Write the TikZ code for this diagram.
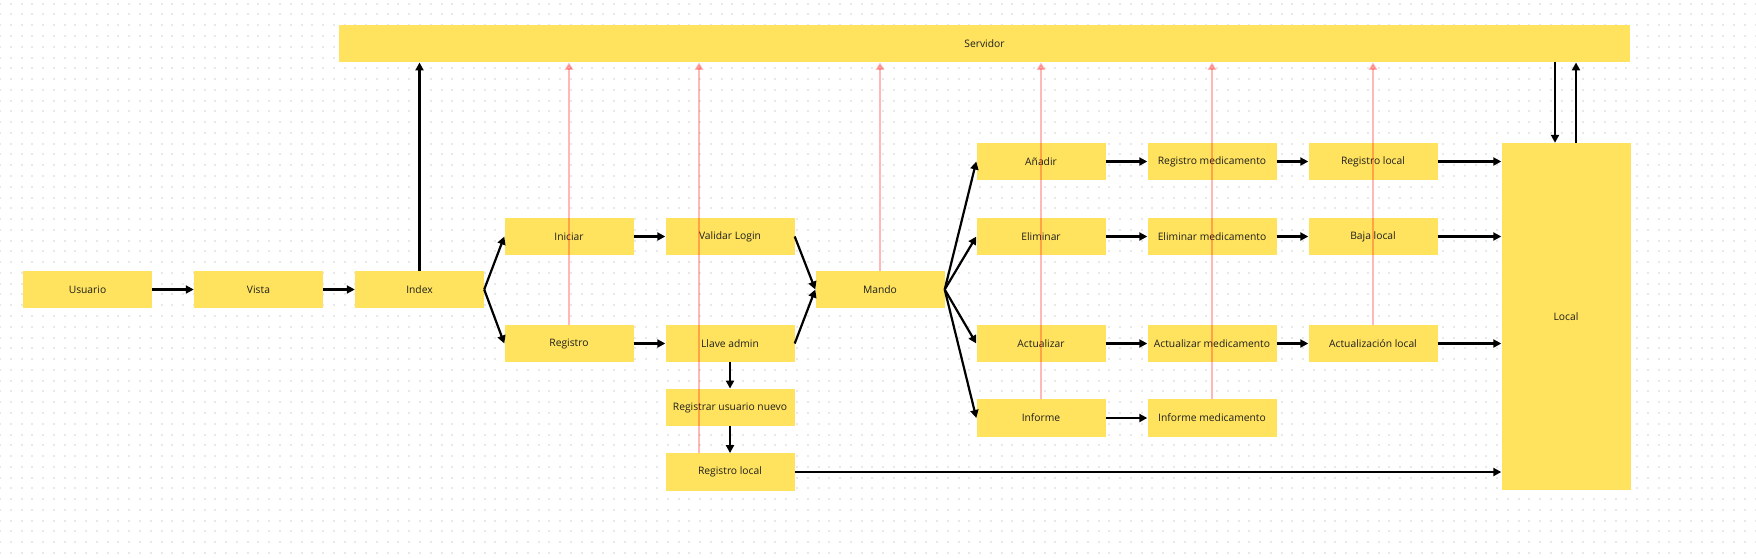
\documentclass[tikz,border=0pt]{standalone}
\usepackage{fontspec}
\setmainfont{Open Sans}
\usetikzlibrary{arrows.meta,calc}
\definecolor{stick}{RGB}{255,227,94}
\definecolor{griddot}{RGB}{232,232,232}
\definecolor{ink}{RGB}{30,30,30}
\begin{document}
\begin{tikzpicture}[x=1pt,y=-1pt,
  box/.style={fill=stick,minimum width=129pt,minimum height=37.5pt,inner sep=0pt,text=ink,font=\fontsize{10.3}{12}\selectfont},
  arr/.style={line width=2.2pt,-{Triangle[length=8pt,width=8pt]}},
  sync/.style={line width=2pt,red,opacity=0.28,-{Triangle[length=7.5pt,width=8.5pt]}}]
\fill[white] (0,0) rectangle (1756,557);
\useasboundingbox (0,0) rectangle (1756,557);
% dotted grid
\foreach \r in {0,...,51}
  \draw[griddot,line width=2pt,dash pattern=on 2pt off 8.77pt] (-1,{3.7+10.77*\r}) -- (1757,{3.7+10.77*\r});
% nodes
\node[box,minimum width=1291pt] (srv) at (984.5,43.5) {Servidor};
\node[box,minimum height=347pt] (loc) at (1566,316.5) {Local};
\node[box] (usu) at (87.5,289.5) {Usuario};
\node[box] (vis) at (258.5,289.5) {Vista};
\node[box] (idx) at (419.5,289.5) {Index};
\node[box] (ini) at (569,236.5) {Iniciar};
\node[box] (reg) at (569,343.5) {Registro};
\node[box] (val) at (730,236.5) {Validar Login};
\node[box] (lla) at (730,343.5) {Llave admin};
\node[box] (run) at (730,407.5) {Registrar usuario nuevo};
\node[box] (rl1) at (730,472) {Registro local};
\node[box] (man) at (880,289.5) {Mando};
\node[box] (ana) at (1041,161.5) {Añadir};
\node[box] (eli) at (1041,236.5) {Eliminar};
\node[box] (act) at (1041,343.5) {Actualizar};
\node[box] (inf) at (1041,418) {Informe};
\node[box] (rme) at (1212,161.5) {Registro medicamento};
\node[box] (eme) at (1212,236.5) {Eliminar medicamento};
\node[box] (ame) at (1212,343.5) {Actualizar medicamento};
\node[box] (ime) at (1212,418) {Informe medicamento};
\node[box] (rl2) at (1373,161.5) {Registro local};
\node[box] (baj) at (1373,236.5) {Baja local};
\node[box] (acl) at (1373,343.5) {Actualización local};
% black connectors
\draw[arr] (usu.east) -- (vis.west);
\draw[arr] (vis.east) -- (idx.west);
\draw[arr] (idx.north) -- (idx.north |- srv.south);
\draw[arr] (idx.east) -- (ini.west);
\draw[arr] (idx.east) -- (reg.west);
\draw[arr] (ini.east) -- (val.west);
\draw[arr] (reg.east) -- (lla.west);
\draw[arr] (val.east) -- (man.west);
\draw[arr] (lla.east) -- (man.west);
\draw[arr] (lla.south) -- (run.north);
\draw[arr] (run.south) -- (rl1.north);
\draw[arr] (rl1.east) -- (rl1.east -| loc.west);
\draw[arr] (man.east) -- (ana.west);
\draw[arr] (man.east) -- (eli.west);
\draw[arr] (man.east) -- (act.west);
\draw[arr] (man.east) -- (inf.west);
\draw[arr] (ana.east) -- (rme.west);
\draw[arr] (rme.east) -- (rl2.west);
\draw[arr] (rl2.east) -- (rl2.east -| loc.west);
\draw[arr] (eli.east) -- (eme.west);
\draw[arr] (eme.east) -- (baj.west);
\draw[arr] (baj.east) -- (baj.east -| loc.west);
\draw[arr] (act.east) -- (ame.west);
\draw[arr] (ame.east) -- (acl.west);
\draw[arr] (acl.east) -- (acl.east -| loc.west);
\draw[arr] (inf.east) -- (ime.west);
\coordinate (ldown) at ($(loc.north)+(-11,0)$);
\coordinate (lup) at ($(loc.north)+(10,0)$);
\draw[arr] (ldown |- srv.south) -- (ldown);
\draw[arr] (lup) -- (lup |- srv.south);
% pink sync connectors
\coordinate (rl1s) at ($(rl1.north)+(-31,0)$);
\draw[sync] (reg.north) -- (reg.north |- srv.south);
\draw[sync] (rl1s) -- (rl1s |- srv.south);
\draw[sync] (man.north) -- (man.north |- srv.south);
\draw[sync] (inf.north) -- (inf.north |- srv.south);
\draw[sync] (ime.north) -- (ime.north |- srv.south);
\draw[sync] (acl.north) -- (acl.north |- srv.south);
\end{tikzpicture}
\end{document}
